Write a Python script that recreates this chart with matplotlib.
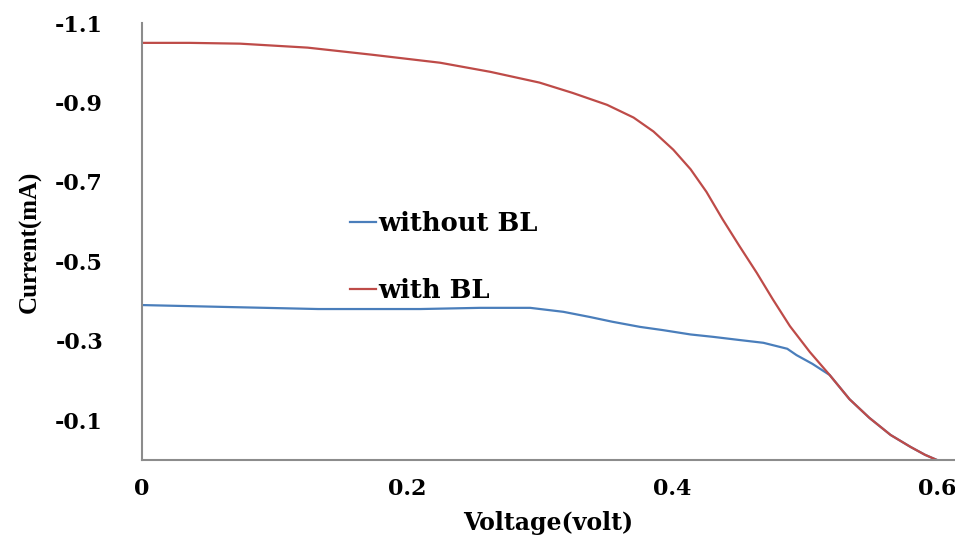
import numpy as np
import matplotlib
matplotlib.use('Agg')
from matplotlib import pyplot as plt

# voltage (V) / current (mA)
volt_with = [0.0, 0.036, 0.074, 0.125, 0.174, 0.225, 0.263, 0.300, 0.325, 0.351,
             0.371, 0.386, 0.401, 0.414, 0.426, 0.438, 0.451, 0.464, 0.476, 0.489,
             0.504, 0.519, 0.534, 0.549, 0.565, 0.580, 0.591, 0.600]
curr_with = [-1.050, -1.050, -1.048, -1.038, -1.020, -1.000, -0.977, -0.950, -0.924,
             -0.894, -0.862, -0.827, -0.781, -0.732, -0.675, -0.607, -0.538, -0.471,
             -0.405, -0.337, -0.272, -0.214, -0.153, -0.106, -0.063, -0.033, -0.013, 0.0]

volt_without = [0.0, 0.066, 0.133, 0.210, 0.255, 0.293, 0.318, 0.338, 0.355, 0.376,
                0.393, 0.414, 0.431, 0.451, 0.469, 0.487, 0.494, 0.506, 0.519, 0.534,
                0.549, 0.565, 0.580, 0.591, 0.600]
curr_without = [-0.390, -0.385, -0.380, -0.380, -0.383, -0.383, -0.373, -0.360, -0.348,
                -0.335, -0.327, -0.316, -0.310, -0.302, -0.295, -0.280, -0.264, -0.242,
                -0.214, -0.153, -0.106, -0.063, -0.033, -0.013, 0.0]

x_ticks = [0, 0.2, 0.4, 0.6]
x_labels = ['0', '0.2', '0.4', '0.6']
y_ticks = [-1.1, -0.9, -0.7, -0.5, -0.3, -0.1]
y_labels = ['-1.1', '-0.9', '-0.7', '-0.5', '-0.3', '-0.1']

BLUE = '#4a7ebb'
RED = '#be4b48'

fig = plt.figure(figsize=(9.55, 5.39), dpi=100)
ax = fig.add_axes([142 / 955, 1 - 460 / 539, 1 - 142 / 955, 437 / 539])

ax.plot(volt_without, curr_without, color=BLUE, lw=1.6, label='without BL',
        solid_joinstyle='round')
ax.plot(volt_with, curr_with, color=RED, lw=1.6, label='with BL',
        solid_joinstyle='round')

ax.set_xlim(0, 0.6136)
ax.set_ylim(0, -1.1)

tick_font = dict(family='DejaVu Serif', weight='bold', size=16)
ax.set_xticks(x_ticks)
ax.set_xticklabels(x_labels, fontdict=tick_font)
ax.set_yticks(y_ticks)
ax.set_yticklabels(y_labels, fontdict=tick_font)
ax.tick_params(length=0)
ax.tick_params(axis='x', pad=13)
ax.tick_params(axis='y', pad=28)

for s in ['top', 'right']:
    ax.spines[s].set_visible(False)
for s in ['left', 'bottom']:
    ax.spines[s].set_color('#8c8c8c')
    ax.spines[s].set_linewidth(1.5)

ax.set_xlabel('Voltage(volt)', family='DejaVu Serif', weight='bold', size=17, labelpad=8)
fig.text(30 / 955, 1 - 242 / 539, 'Current(mA)', rotation=90, ha='center', va='center',
         family='Liberation Serif', weight='bold', size=18)

leg = ax.legend(loc='upper left', bbox_to_anchor=(350 / 955, 1 - 211 / 539),
                bbox_transform=fig.transFigure, frameon=False,
                handlelength=1.0, handletextpad=0.1, labelspacing=1.65,
                borderpad=0, borderaxespad=0,
                prop=dict(family='DejaVu Serif', weight='bold', size=18.5))

fig.savefig('out.png', dpi=100)
